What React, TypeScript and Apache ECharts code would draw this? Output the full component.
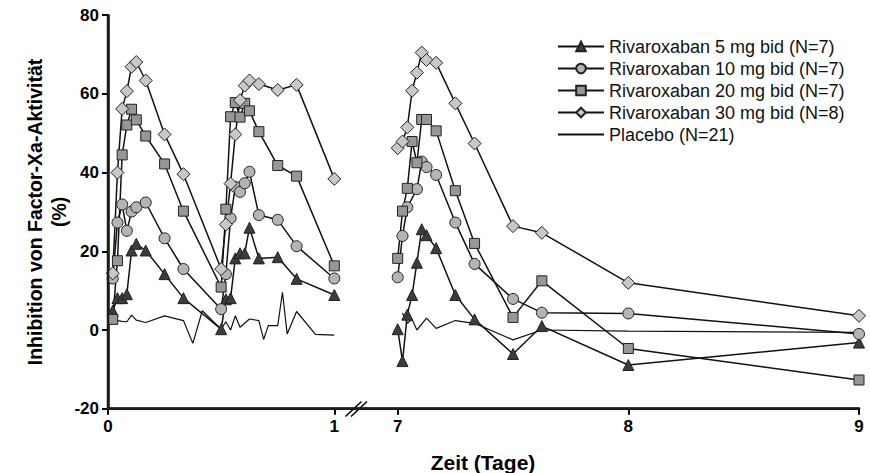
import React, { useEffect, useRef } from "react";
import * as echarts from "echarts";

// Time points (hours after first dose on day 0, and after dose on day 7)
const leftHours = [0.5, 1, 1.5, 2, 2.5, 3, 4, 6, 8, 12, 12.5, 13, 13.5, 14, 14.5, 15, 16, 18, 20, 24];
const left5 = [4.9, 8.1, 8.1, 9.1, 20.2, 21.9, 20.2, 14.2, 8.1, 0.2, 7.8, 8.1, 18.2, 19.5, 19.5, 26, 18.2, 18.5, 13, 8.9];
const left10 = [13.1, 27.3, 31.9, 25.2, 30.1, 31.2, 32.4, 23.3, 15.5, 5.3, 14.2, 28.4, 36.4, 35.1, 37.3, 40.2, 29.2, 28, 21.3, 13.1];
const left20 = [2.7, 17.6, 44.5, 52.1, 56.1, 53.4, 49.3, 42.2, 30.2, 10.9, 30.7, 54.2, 57.8, 54.1, 57.6, 55.7, 50.4, 41.8, 39.1, 16.3];
const left30 = [14.4, 40, 56.2, 60.7, 66.9, 68.1, 63.4, 49.7, 39.6, 15.5, 26.8, 37.2, 49.7, 58.4, 62.1, 63.4, 62.5, 61, 62.3, 38.4];

const rightHours = [0, 0.5, 1, 1.5, 2, 2.5, 3, 4, 6, 8, 12, 15, 24, 48];
const right5 = [0.2, -7.9, 3.9, 8.9, 17.1, 25.6, 24.1, 20.8, 8.9, 2.7, -6.1, 1, -8.9, -3.2];
const right10Hours = [0, 0.5, 1, 2, 2.5, 3, 4, 6, 8, 12, 15, 24, 48];
const right10 = [13.4, 23.9, 31.2, 35.8, 42.8, 41.4, 39.4, 27.3, 16.8, 7.9, 4.4, 4.2, -1];
const right20 = [18.2, 30.2, 36, 47.9, 42.5, 53.5, 53.5, 50.6, 35.4, 22, 3.2, 12.5, -4.7, -12.7];
const right30 = [46.2, 47.9, 51.5, 60.8, 65.4, 70.5, 68.6, 67.9, 57.6, 47.4, 26.4, 24.7, 12, 3.6];

const placeboLeftHours = [0.5, 1, 1.5, 2, 2.5, 3, 4, 6, 8, 9, 10, 12, 12.5, 13, 13.5, 14, 15, 16, 16.5, 17, 18, 18.5, 19, 20, 22, 24];
const placeboLeft = [3.4, 2.4, 2.2, 2.1, 3.8, 2.5, 1.9, 3.6, 2.4, -3.4, 4.9, 0.2, 2.1, 0, 3.6, 0.7, 2.8, 2.4, -2.4, 1.1, 1.1, 9.6, -1, 4.7, -1.1, -1.3];
const placeboRightHours = [0.5, 1, 1.5, 2, 3, 4, 6, 8, 12, 15, 24, 48];
const placeboRight = [4.3, 1.7, 2.7, 0, 3, 0.4, 2.4, 1.7, -2.5, 0, -0.3, -0.6];

const names = [
  "Rivaroxaban 5 mg bid (N=7)",
  "Rivaroxaban 10 mg bid (N=7)",
  "Rivaroxaban 20 mg bid (N=7)",
  "Rivaroxaban 30 mg bid (N=8)",
  "Placebo (N=21)",
];
const yTicks = [-20, 0, 20, 40, 60, 80];
const leftDays = [0, 1];
const rightDays = [7, 8, 9];
const leftExtent = [0, 1.14];
const rightExtent = [6.8626, 9];

const FONT = "Liberation Sans, Arial, sans-serif";
const AXIS_COLOR = "#1a1a1a";

// plot frame
const G_LEFT = 108;
const G_TOP = 15.2;
const G_H = 393.5;
const G_RIGHT_END = 859;
const G_SPLIT = 366;

function pairs(hours: number[], vals: number[], offsetDay: number) {
  return hours.map((h, i) => [offsetDay + h / 24, vals[i]]);
}

const mkAxisLine = () => ({ show: true, onZero: false, lineStyle: { color: AXIS_COLOR, width: 2.5 } });
const mkTick = (cv?: number[]) => {
  const t: any = { show: true, inside: false, length: 6, lineStyle: { color: "#000", width: 2 } };
  if (cv) t.customValues = cv;
  return t;
};
const mkLabel = (margin: number, cv?: number[]) => {
  const l: any = { color: "#000", fontSize: 17, fontWeight: "bold", fontFamily: FONT, margin };
  if (cv) l.customValues = cv;
  return l;
};

export default function App() {
  const ref = useRef<HTMLDivElement>(null);
  useEffect(() => {
    if (!ref.current) return;
    const chart = echarts.init(ref.current, null, { renderer: "svg" });
    const styles = [
      { symbol: "triangle", symbolSize: 11, color: "#3c3c3c" },
      { symbol: "circle", symbolSize: 11, color: "#b4b4b4" },
      { symbol: "rect", symbolSize: 10, color: "#979797" },
      { symbol: "diamond", symbolSize: 13, color: "#c8c8c8" },
    ];
    const leftVals = [left5, left10, left20, left30];
    const rightVals = [right5, right10, right20, right30];
    const rightH = [rightHours, right10Hours, rightHours, rightHours];
    const series: any[] = [];
    const yMin = yTicks[0];
    const yMax = yTicks[yTicks.length - 1];

    for (let i = 0; i < 4; i++) {
      const base = {
        type: "line",
        name: names[i],
        symbol: styles[i].symbol,
        symbolSize: styles[i].symbolSize,
        lineStyle: { color: "#111", width: 1.5 },
        itemStyle: { color: styles[i].color, borderColor: "#222", borderWidth: 1 },
        z: 3,
      };
      series.push({ ...base, xAxisIndex: 0, yAxisIndex: 0, data: pairs(leftHours, leftVals[i], 0) });
      series.push({ ...base, xAxisIndex: 1, yAxisIndex: 1, data: pairs(rightH[i], rightVals[i], 7) });
    }
    const pl = {
      type: "line",
      name: names[4],
      symbol: "none",
      lineStyle: { color: "#111", width: 1.2 },
      itemStyle: { color: "#111" },
      z: 2,
    };
    series.push({ ...pl, xAxisIndex: 0, yAxisIndex: 0, data: pairs(placeboLeftHours, placeboLeft, 0) });
    series.push({ ...pl, xAxisIndex: 1, yAxisIndex: 1, data: pairs(placeboRightHours, placeboRight, 7) });

    const yBottom = G_TOP + G_H;

    chart.setOption({
      animation: false,
      backgroundColor: "#fff",
      grid: [
        { left: G_LEFT, top: G_TOP, width: G_SPLIT - G_LEFT, height: G_H },
        { left: G_SPLIT, top: G_TOP, width: G_RIGHT_END - G_SPLIT, height: G_H },
      ],
      xAxis: [
        {
          type: "value", gridIndex: 0, min: leftExtent[0], max: leftExtent[1],
          axisLine: mkAxisLine(),
          axisTick: mkTick(leftDays),
          axisLabel: mkLabel(9, leftDays),
          splitLine: { show: false },
        },
        {
          type: "value", gridIndex: 1, min: rightExtent[0], max: rightExtent[1],
          axisLine: mkAxisLine(),
          axisTick: mkTick(rightDays),
          axisLabel: mkLabel(9, rightDays),
          splitLine: { show: false },
        },
      ],
      yAxis: [
        {
          type: "value", gridIndex: 0, min: yMin, max: yMax, interval: 20,
          axisLine: mkAxisLine(),
          axisTick: mkTick(),
          axisLabel: mkLabel(9),
          splitLine: { show: false },
          name: "Inhibition von Factor-Xa-Aktivität\n(%)",
          nameLocation: "middle",
          nameGap: 33,
          nameTextStyle: { color: "#000", fontWeight: "bold", fontFamily: FONT, fontSize: 19.5, lineHeight: 24 },
        },
        {
          type: "value", gridIndex: 1, min: yMin, max: yMax, interval: 20,
          axisLine: { show: false }, axisTick: { show: false }, axisLabel: { show: false },
          splitLine: { show: false },
        },
      ],
      legend: {
        data: [
          names[0], names[1], names[2], names[3],
          { name: names[4], itemStyle: { opacity: 0 } },
        ],
        orient: "vertical",
        left: 557,
        top: 37.5,
        padding: 0,
        itemWidth: 46,
        itemHeight: 12,
        itemGap: 4,
        textStyle: { color: "#111", fontSize: 18, lineHeight: 18, fontFamily: FONT },
      },
      graphic: [
        {
          type: "text", x: 483, y: 462,
          style: { text: "Zeit (Tage)", font: `bold 21px ${FONT}`, fill: "#000", textAlign: "center", textVerticalAlign: "middle" },
        },
        { type: "line", shape: { x1: 345.5, y1: 416.5, x2: 361.5, y2: 401.5 }, style: { stroke: "#000", lineWidth: 1.5 }, z: 10 },
        { type: "line", shape: { x1: 351, y1: 416.5, x2: 367, y2: 401.5 }, style: { stroke: "#000", lineWidth: 1.5 }, z: 10 },
        { type: "rect", shape: { x: G_LEFT - 1.25, y: G_TOP, width: 2.5, height: G_H + 1.25 }, style: { fill: AXIS_COLOR }, z: 20, silent: true },
        { type: "rect", shape: { x: G_LEFT - 1.25, y: yBottom - 1.25, width: G_RIGHT_END - G_LEFT + 1.25, height: 2.5 }, style: { fill: AXIS_COLOR }, z: 20, silent: true },
      ],
      series,
    });
    return () => chart.dispose();
  }, []);
  return <div ref={ref} style={{ position: "fixed", left: 0, top: 0, width: 870, height: 473 }} />;
}
